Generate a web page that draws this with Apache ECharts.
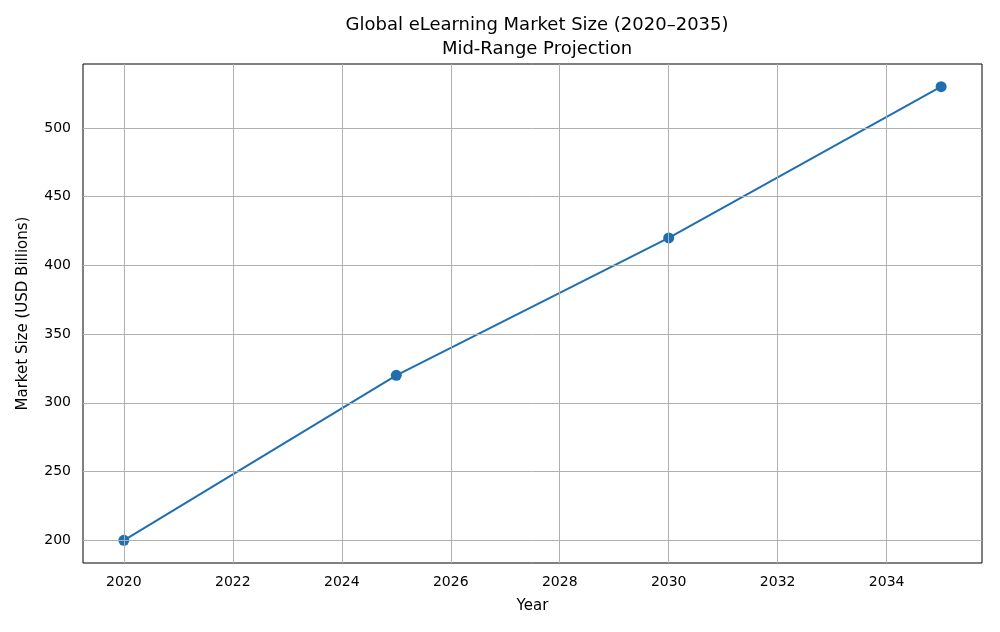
<!DOCTYPE html>
<html>
<head>
<meta charset="utf-8">
<script src="https://cdn.jsdelivr.net/npm/echarts@6/dist/echarts.min.js"></script>
<style>html,body{margin:0;background:#fff}#chart{width:1000px;height:632px}</style>
</head>
<body>
<div id="chart"></div>
<script>
// data
const years = [2020, 2025, 2030, 2035];
const marketSize = [200, 320, 420, 530];
const xTicks = [2020, 2022, 2024, 2026, 2028, 2030, 2032, 2034];
const yTicks = [200, 250, 300, 350, 400, 450, 500];

const chart = echarts.init(document.getElementById("chart"));
const font = "DejaVu Sans";
const gridLine = { color: "#b0b0b0", width: 1, type: "solid" };

chart.setOption({
  animation: false,
  textStyle: { fontFamily: font },
  title: {
    text: "Global eLearning Market Size (2020–2035)\nMid-Range Projection",
    left: 532,
    textAlign: "center",
    top: 8,
    textStyle: { fontFamily: font, fontSize: 18, fontWeight: "normal", color: "#000", lineHeight: 24 },
  },
  grid: {
    left: 83, right: 18, top: 64, bottom: 69,
    show: true, borderColor: "#000", borderWidth: 1,
  },
  xAxis: {
    type: "value",
    min: 2019.25,
    max: 2035.75,
    interval: 0.25,
    name: "Year",
    nameLocation: "middle",
    nameGap: 36,
    nameTextStyle: { fontSize: 15, color: "#000" },
    axisLine: { show: false },
    axisTick: { show: false },
    axisLabel: {
      fontSize: 14, color: "#000", margin: 12,
      formatter: (v) => (xTicks.includes(v) ? String(v) : ""),
    },
    splitLine: { show: false },
  },
  yAxis: {
    type: "value",
    min: 183.5,
    max: 546.5,
    interval: 0.5,
    name: "Market Size (USD Billions)",
    nameLocation: "middle",
    nameGap: 52,
    nameTextStyle: { fontSize: 15, color: "#000" },
    axisLine: { show: false },
    axisTick: { show: false },
    axisLabel: {
      fontSize: 14, color: "#000", margin: 12,
      formatter: (v) => (yTicks.includes(v) ? String(v) : ""),
    },
    splitLine: { show: false },
  },
  series: [
    {
      // grid lines at the real tick positions
      type: "line",
      data: [],
      z: 1,
      silent: true,
      markLine: {
        silent: true,
        symbol: "none",
        label: { show: false },
        lineStyle: gridLine,
        data: xTicks.map((v) => ({ xAxis: v })).concat(yTicks.map((v) => ({ yAxis: v }))),
      },
    },
    {
      type: "line",
      z: 3,
      data: years.map((y, i) => [y, marketSize[i]]),
      symbol: "circle",
      symbolSize: 11,
      lineStyle: { color: "#1f6fb0", width: 2 },
      itemStyle: { color: "#1f6fb0" },
    },
  ],
});
</script>
</body>
</html>
